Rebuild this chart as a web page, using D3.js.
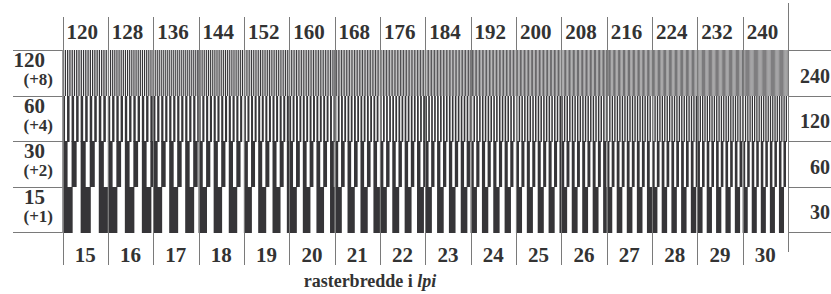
<!DOCTYPE html>
<html>
<head>
<meta charset="utf-8">
<script src="https://cdn.jsdelivr.net/npm/d3@7"></script>
<style>
  body { margin: 0; background: #fff; }
  svg { display: block; }
  text { font-family: "Liberation Serif", "Times New Roman", serif; font-weight: bold; fill: #333; }
</style>
</head>
<body>
<svg id="chart"></svg>
<script>
// raster values (lpi) along the bottom, and the finest row along the top
const baseLpi = [15, 16, 17, 18, 19, 20, 21, 22, 23, 24, 25, 26, 27, 28, 29, 30];
const topLpi = [120, 128, 136, 144, 152, 160, 168, 176, 184, 192, 200, 208, 216, 224, 232, 240];
// one row per multiplier: left label, step, right label
const rowLabels = ["120", "60", "30", "15"];
const rowSteps = ["(+8)", "(+4)", "(+2)", "(+1)"];
const rowFactor = [8, 4, 2, 1];
const rowRight = ["240", "120", "60", "30"];
const axisTitle = "rasterbredde i ";
const axisTitleItalic = "lpi";

const width = 831, height = 294;
const plotLeft = 62.5, plotRight = 788;
const plotTop = 50, rowH = 45.5;
const inkShare = 0.56; // black part of each line period

const svg = d3.select("#chart")
    .attr("width", width)
    .attr("height", height);

// each column is 1/6 inch wide
const colInch = 1 / 6;
const x = d3.scaleLinear()
    .domain([0, baseLpi.length * colInch])
    .range([plotLeft, plotRight]);

const y = d3.scaleBand()
    .domain(d3.range(rowFactor.length))
    .range([plotTop, plotTop + rowH * rowFactor.length]);

const stripes = svg.append("g");

rowFactor.forEach((m, r) => {
    baseLpi.forEach((lpi, c) => {
        let f = lpi * m;
        let x0 = c * colInch, x1 = (c + 1) * colInch;
        let n = Math.ceil(colInch * f);
        let bars = d3.range(n).map(k => {
            let a = x0 + k / f;
            let b = Math.min(a + inkShare / f, x1);
            return [a, b];
        });
        stripes.selectAll(null)
            .data(bars)
            .enter()
            .append("rect")
                .attr("x", d => x(d[0]))
                .attr("width", d => x(d[1]) - x(d[0]))
                .attr("y", Math.round(y(r)))
                .attr("height", Math.round(y.bandwidth()))
                .attr("fill", "#363538");
    });
});

const grid = svg.append("g")
    .attr("stroke", "#7a7a7a")
    .attr("stroke-width", 1);

// column separators, header and footer
d3.range(baseLpi.length + 1).forEach(i => {
    let xi = Math.round(x(i * colInch)) + 0.5;
    grid.append("line")
        .attr("x1", xi).attr("x2", xi)
        .attr("y1", i === baseLpi.length ? 3 : 17)
        .attr("y2", i === baseLpi.length ? 252 : 265);
});

// row separators on both sides
d3.range(rowFactor.length + 1).forEach(r => {
    let yr = Math.round(plotTop + r * rowH) + 0.5;
    grid.append("line")
        .attr("x1", 13).attr("x2", plotLeft)
        .attr("y1", yr).attr("y2", yr);
    grid.append("line")
        .attr("x1", plotRight).attr("x2", width)
        .attr("y1", yr).attr("y2", yr);
});

// top labels
svg.append("g")
    .selectAll("text")
    .data(topLpi)
    .enter()
    .append("text")
        .attr("x", (d, i) => x(i * colInch) + 4)
        .attr("y", 39)
        .attr("font-size", "21px")
        .text(d => d);

// bottom labels
svg.append("g")
    .selectAll("text")
    .data(baseLpi)
    .enter()
    .append("text")
        .attr("x", (d, i) => x((i + 0.5) * colInch))
        .attr("y", 262)
        .attr("font-size", "21px")
        .style("text-anchor", "middle")
        .text(d => d);

// left labels
rowLabels.forEach((lab, r) => {
    svg.append("text")
        .attr("x", 45)
        .attr("y", y(r) + 17)
        .attr("font-size", "21px")
        .style("text-anchor", "end")
        .text(lab);
    svg.append("text")
        .attr("x", 53)
        .attr("y", y(r) + 35)
        .attr("font-size", "17px")
        .style("text-anchor", "end")
        .text(rowSteps[r]);
});

// right labels
rowRight.forEach((lab, r) => {
    svg.append("text")
        .attr("x", 830)
        .attr("y", y(r) + y.bandwidth() / 2 + 10)
        .attr("font-size", "20px")
        .style("text-anchor", "end")
        .text(lab);
});

const title = svg.append("text")
    .attr("x", 370)
    .attr("y", 287)
    .attr("font-size", "18px")
    .style("text-anchor", "middle");
title.append("tspan").text(axisTitle);
title.append("tspan").attr("font-style", "italic").text(axisTitleItalic);
</script>
</body>
</html>
